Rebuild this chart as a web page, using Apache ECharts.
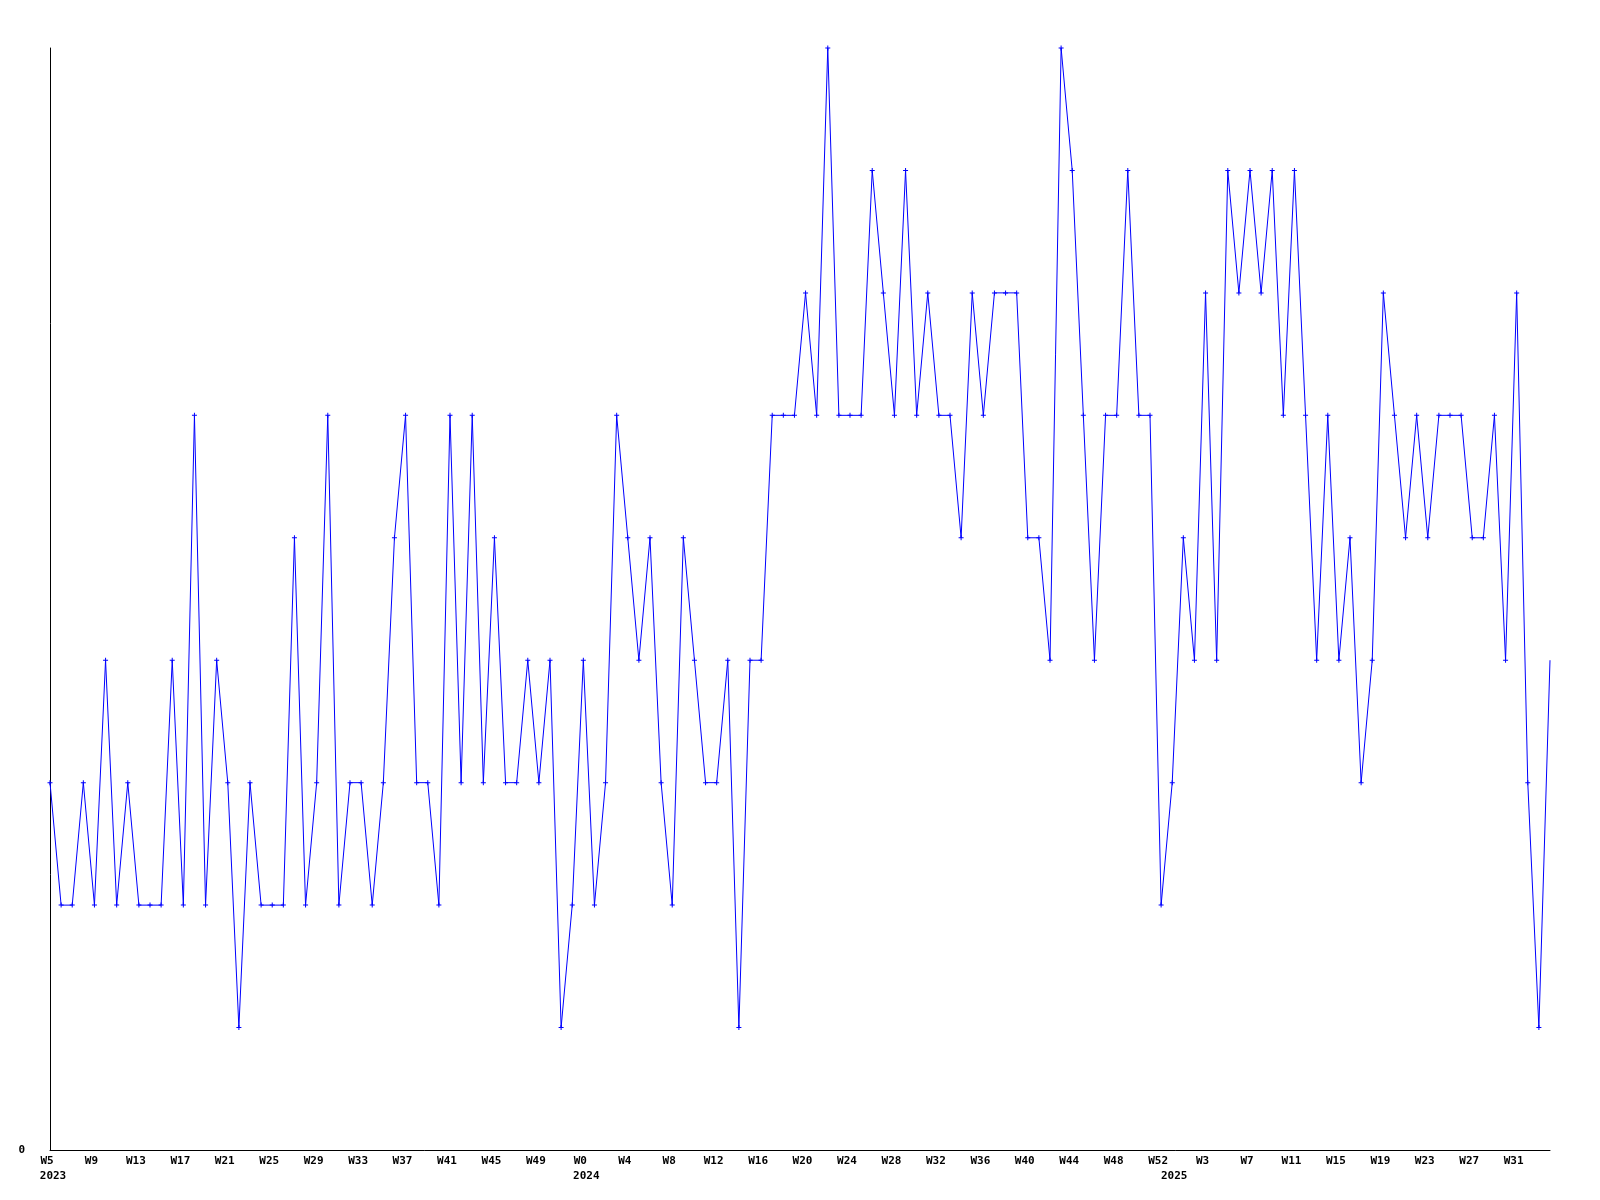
<!DOCTYPE html>
<html>
<head>
<meta charset="utf-8">
<script src="https://cdn.jsdelivr.net/npm/echarts@6/dist/echarts.min.js"></script>
<style>
  html, body { margin: 0; padding: 0; background: #ffffff; }
  #chart { width: 1600px; height: 1200px; }
</style>
</head>
<body>
<div id="chart"></div>
<script>
// Week ranges covered by the series: [year, first week, last week]
const weekRanges = [[2023, 5, 52], [2024, 0, 52], [2025, 0, 34]];

// Weekly values (one per week)
const values2023 = [3, 2, 2, 3, 2, 4, 2, 3, 2, 2, 2, 4, 2, 6, 2, 4, 3, 1, 3, 2, 2, 2, 5, 2, 3, 6, 2, 3, 3, 2, 3, 5, 6, 3, 3, 2, 6, 3, 6, 3, 5, 3, 3, 4, 3, 4, 1, 2];
const values2024 = [4, 2, 3, 6, 5, 4, 5, 3, 2, 5, 4, 3, 3, 4, 1, 4, 4, 6, 6, 6, 7, 6, 9, 6, 6, 6, 8, 7, 6, 8, 6, 7, 6, 6, 5, 7, 6, 7, 7, 7, 5, 5, 4, 9, 8, 6, 4, 6, 6, 8, 6, 6, 2];
const values2025 = [3, 5, 4, 7, 4, 8, 7, 8, 7, 8, 6, 8, 6, 4, 6, 4, 5, 3, 4, 7, 6, 5, 6, 5, 6, 6, 6, 5, 5, 6, 4, 7, 3, 1, 4];

// Labels
const yearLabels = ['2023', '2024', '2025'];
const weekPrefix = 'W';
const yAxisTickLabels = ['0'];

// Build categories from ranges
const categories = [];
const yearStartIdx = {};
weekRanges.forEach(([y, a, b]) => {
  yearStartIdx[categories.length] = String(y);
  for (let w = a; w <= b; w++) categories.push(y + '-' + weekPrefix + w);
});
const values = values2023.concat(values2024, values2025);
const seriesData = values.map((v, i) => i === values.length - 1 ? { value: v, symbol: 'none' } : v);

const FONT = '"DejaVu Sans Mono", "Liberation Mono", monospace';
const chart = echarts.init(document.getElementById('chart'), null, { renderer: 'canvas' });

chart.setOption({
  animation: false,
  backgroundColor: '#ffffff',
  grid: { left: 50, right: 50, top: 48, bottom: 50, containLabel: false },
  xAxis: [
    {
      type: 'category',
      data: categories,
      boundaryGap: false,
      position: 'bottom',
      axisLine: { show: true, lineStyle: { color: '#000000', width: 1 } },
      axisTick: { show: false },
      splitLine: { show: false },
      axisLabel: {
        interval: 3,
        margin: 6,
        color: '#000000',
        fontFamily: FONT,
        fontWeight: 'bold',
        fontSize: 11,
        padding: [0, 6, 0, 0],
        formatter: v => v.split('-')[1]
      }
    },
    {
      type: 'category',
      data: categories,
      boundaryGap: false,
      position: 'bottom',
      offset: 15,
      axisLine: { show: false },
      axisTick: { show: false },
      splitLine: { show: false },
      axisLabel: {
        interval: (i) => yearStartIdx[i] !== undefined,
        margin: 6,
        color: '#000000',
        fontFamily: FONT,
        fontWeight: 'bold',
        fontSize: 11,
        formatter: (v, i) => {
          const y = v.split('-')[0];
          return yearLabels.indexOf(y) === 2 ? '{b|' + y + '}' : '{a|' + y + '}';
        },
        rich: {
          a: { fontFamily: FONT, fontWeight: 'bold', fontSize: 11, color: '#000', padding: [0, 0, 0, 6] },
          b: { fontFamily: FONT, fontWeight: 'bold', fontSize: 11, color: '#000', padding: [0, 0, 0, 4] }
        }
      }
    }
  ],
  yAxis: {
    type: 'value',
    min: 0,
    max: 9,
    interval: 9,
    axisLine: { show: true, lineStyle: { color: '#000000', width: 1 } },
    axisTick: { show: false },
    splitLine: { show: false },
    axisLabel: {
      margin: 25,
      color: '#000000',
      fontFamily: FONT,
      fontWeight: 'bold',
      fontSize: 11,
      formatter: v => yAxisTickLabels.indexOf(String(v)) >= 0 ? String(v) : ''
    }
  },
  series: [{
    type: 'line',
    xAxisIndex: 0,
    data: seriesData,
    symbol: 'path://M2,0H3V2H5V3H3V5H2V3H0V2H2Z',
    symbolSize: 5,
    showSymbol: true,
    showAllSymbol: true,
    lineStyle: { color: '#0000ff', width: 1 },
    itemStyle: { color: '#0000ff' },
    clip: false
  }]
});
</script>
</body>
</html>
